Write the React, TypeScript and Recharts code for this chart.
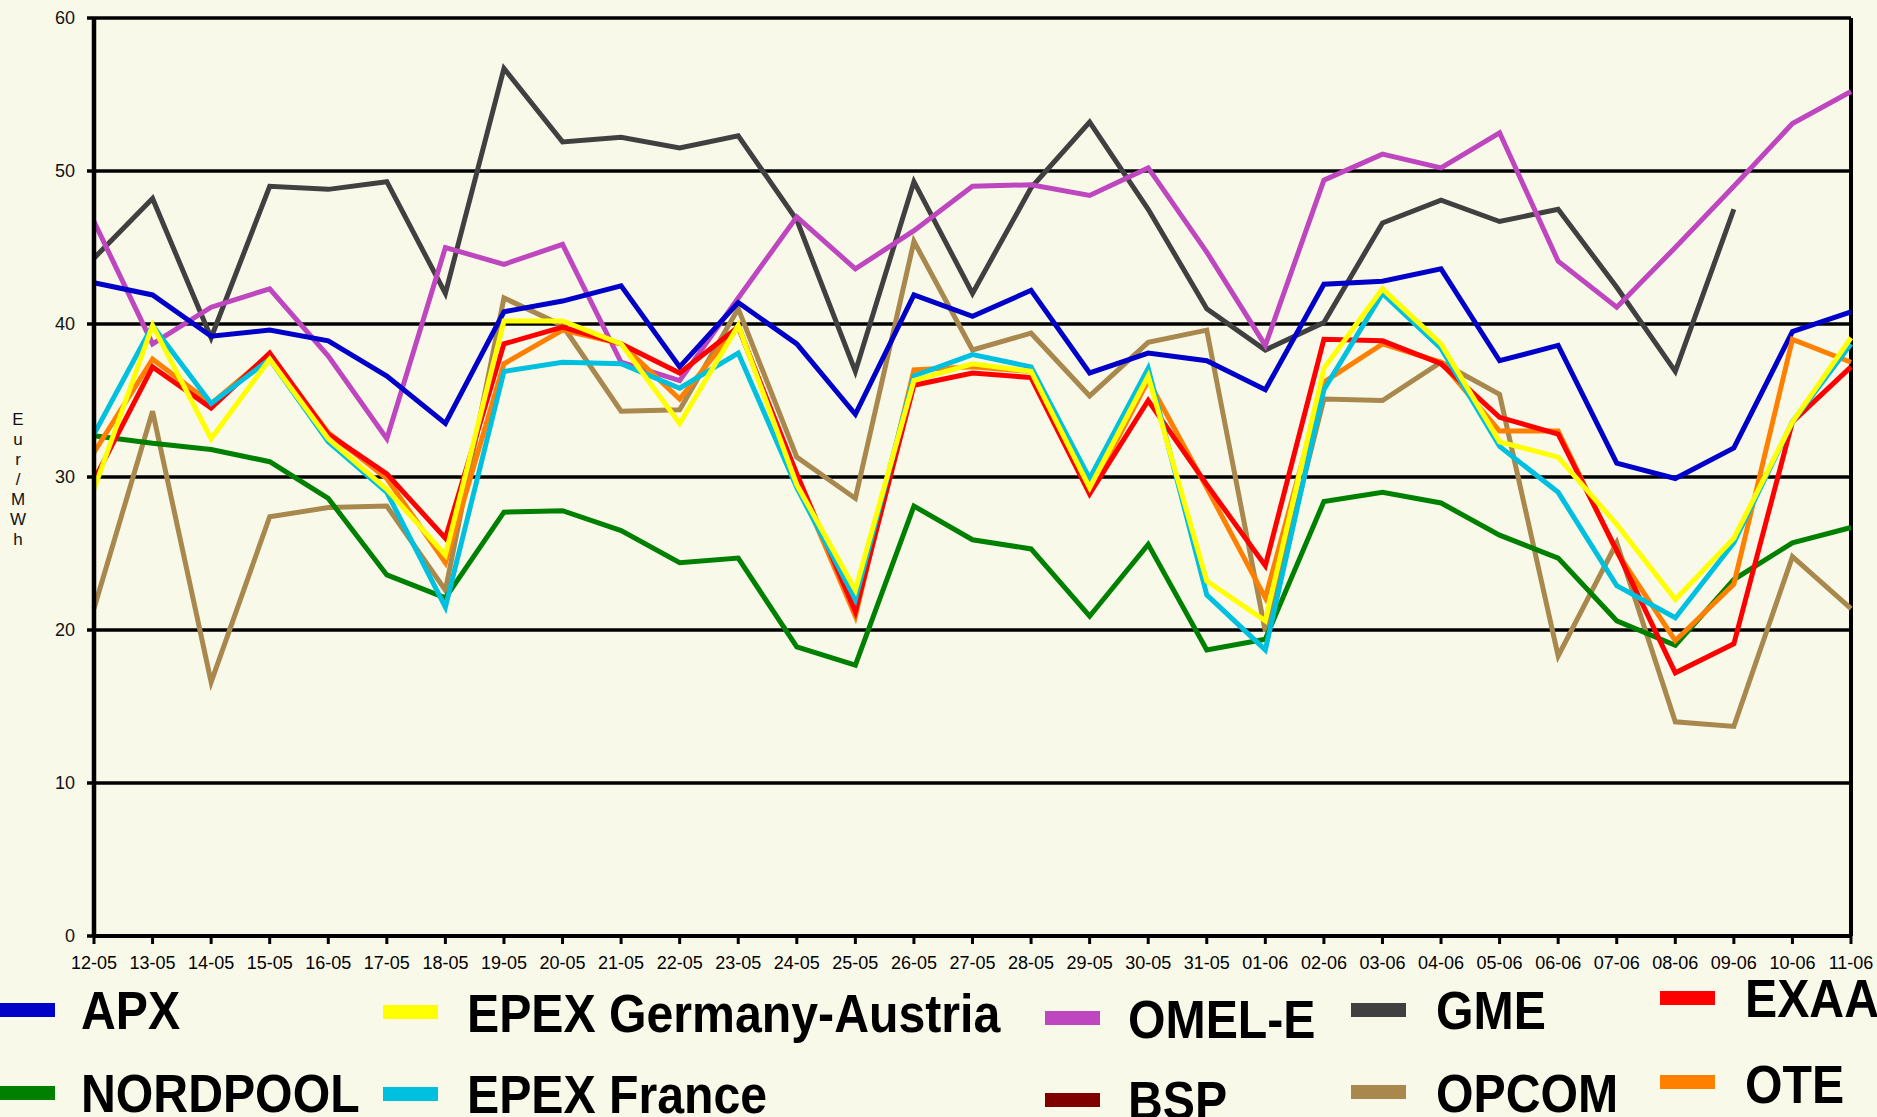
import { LineChart, Line, XAxis, YAxis, CartesianGrid, ReferenceLine } from "recharts";

// trading days on the x axis
const dates = [
  "12-05", "13-05", "14-05", "15-05", "16-05", "17-05", "18-05", "19-05", "20-05", "21-05",
  "22-05", "23-05", "24-05", "25-05", "26-05", "27-05", "28-05", "29-05", "30-05", "31-05",
  "01-06", "02-06", "03-06", "04-06", "05-06", "06-06", "07-06", "08-06", "09-06", "10-06", "11-06",
];

// Eur/MWh per exchange
const apx = [42.7, 41.9, 39.2, 39.6, 38.9, 36.6, 33.5, 40.8, 41.5, 42.5, 37.2, 41.4, 38.7, 34.1, 41.9, 40.5, 42.2, 36.8, 38.1, 37.6, 35.7, 42.6, 42.8, 43.6, 37.6, 38.6, 30.9, 29.9, 31.9, 39.5, 40.8];
const nordpool = [32.7, 32.2, 31.8, 31.0, 28.6, 23.6, 22.1, 27.7, 27.8, 26.5, 24.4, 24.7, 18.9, 17.7, 28.1, 25.9, 25.3, 20.9, 25.6, 18.7, 19.4, 28.4, 29.0, 28.3, 26.2, 24.7, 20.6, 19.0, 23.3, 25.7, 26.7];
const epexDeAt = [29.2, 39.9, 32.5, 37.7, 32.5, 29.2, 24.9, 40.2, 40.2, 38.7, 33.5, 39.9, 29.5, 22.6, 36.3, 37.4, 36.9, 29.3, 36.6, 23.2, 20.6, 37.1, 42.3, 38.7, 32.3, 31.3, 26.9, 22.0, 26.0, 33.6, 39.1];
const epexFr = [32.8, 39.9, 34.8, 37.7, 32.3, 29.0, 21.5, 36.9, 37.5, 37.4, 35.8, 38.1, 29.3, 22.0, 36.6, 38.0, 37.2, 29.9, 37.1, 22.3, 18.7, 35.7, 42.0, 38.4, 32.0, 29.0, 22.9, 20.8, 25.7, 33.6, 38.7];
const omel = [46.7, 38.7, 41.1, 42.3, 37.9, 32.5, 45.0, 43.9, 45.2, 37.5, 36.3, 41.7, 47.0, 43.6, 46.1, 49.0, 49.1, 48.4, 50.2, 44.7, 38.6, 49.4, 51.1, 50.2, 52.5, 44.1, 41.1, 45.0, 49.0, 53.1, 55.2];
const bsp: (number | null)[] = dates.map(() => null);
const gme = [44.3, 48.2, 39.1, 49.0, 48.8, 49.3, 42.0, 56.7, 51.9, 52.2, 51.5, 52.3, 46.8, 36.9, 49.3, 42.0, 48.9, 53.2, 47.5, 41.0, 38.3, 40.1, 46.6, 48.1, 46.7, 47.5, 42.4, 36.9, 47.5, null, null];
const opcom = [21.4, 34.3, 16.6, 27.4, 28.0, 28.1, 22.6, 41.7, 39.9, 34.3, 34.4, 41.0, 31.3, 28.6, 45.4, 38.3, 39.4, 35.3, 38.8, 39.6, 19.9, 35.1, 35.0, 37.5, 35.4, 18.3, 25.7, 14.0, 13.7, 24.8, 21.4];
const exaa = [29.8, 37.2, 34.5, 38.1, 32.8, 30.2, 26.0, 38.7, 39.8, 38.7, 36.8, 39.8, 30.2, 21.2, 36.0, 36.8, 36.5, 28.9, 35.0, 29.5, 24.2, 39.0, 38.9, 37.4, 33.9, 32.8, 25.2, 17.2, 19.1, 33.6, 37.2];
const ote = [31.6, 37.7, 34.8, 38.0, 32.9, 29.9, 24.4, 37.4, 39.6, 38.7, 35.1, 39.9, 29.8, 20.9, 37.0, 37.2, 36.9, 29.0, 36.3, 29.3, 22.1, 36.2, 38.7, 37.5, 33.0, 33.0, 25.1, 19.3, 23.0, 39.0, 37.5];

const yTicks = [0, 10, 20, 30, 40, 50, 60];
const yLabel = ["E", "u", "r", "/", "M", "W", "h"];

// drawing order, bottom first
const series = [
  { key: "OPCOM", values: opcom, color: "#A8884C" },
  { key: "GME", values: gme, color: "#404040" },
  { key: "OMEL-E", values: omel, color: "#BE46BE" },
  { key: "APX", values: apx, color: "#0000C8" },
  { key: "NORDPOOL", values: nordpool, color: "#008000" },
  { key: "BSP", values: bsp, color: "#800000" },
  { key: "OTE", values: ote, color: "#FF8000" },
  { key: "EXAA", values: exaa, color: "#FF0000" },
  { key: "EPEX France", values: epexFr, color: "#00C0E0" },
  { key: "EPEX Germany-Austria", values: epexDeAt, color: "#FFFF00" },
];

const data = dates.map((d, i) => {
  const row: Record<string, string | number | null> = { date: d };
  series.forEach((s) => (row[s.key] = s.values[i]));
  return row;
});

// legend layout: swatch x/y, text x, baseline
const legendItems = [
  { key: "APX", sx: 0, sy: 1003, tx: 81, ty: 1029 },
  { key: "EPEX Germany-Austria", sx: 383, sy: 1005, tx: 467, ty: 1032 },
  { key: "OMEL-E", sx: 1045, sy: 1011, tx: 1128, ty: 1038 },
  { key: "GME", sx: 1351, sy: 1003, tx: 1436, ty: 1029 },
  { key: "EXAA", sx: 1660, sy: 991, tx: 1745, ty: 1017 },
  { key: "NORDPOOL", sx: 0, sy: 1086, tx: 81, ty: 1112 },
  { key: "EPEX France", sx: 383, sy: 1087, tx: 467, ty: 1113 },
  { key: "BSP", sx: 1045, sy: 1093, tx: 1128, ty: 1119 },
  { key: "OPCOM", sx: 1351, sy: 1085, tx: 1436, ty: 1112 },
  { key: "OTE", sx: 1660, sy: 1075, tx: 1745, ty: 1103 },
];

const font = "'Liberation Sans', Arial, sans-serif";
const bg = "#F9F9EA";

export default function App() {
  const colorOf = (k: string) => series.find((s) => s.key === k)?.color ?? "#000";
  return (
    <div style={{ position: "absolute", top: 0, left: 0, width: 1877, height: 1117, background: bg, overflow: "hidden", fontFamily: font }}>
      <div style={{ position: "absolute", top: 0, left: 0, width: 1877, height: 969, overflow: "hidden" }}>
        <LineChart width={1877} height={990} data={data} margin={{ top: 18, right: 26, bottom: 0, left: 0 }}>
          <CartesianGrid vertical={false} stroke="#000" strokeWidth={3.5} />
          <XAxis
            dataKey="date"
            interval={0}
            height={54}
            tickSize={8}
            tickMargin={12}
            axisLine={{ stroke: "#000", strokeWidth: 4 }}
            tickLine={{ stroke: "#000", strokeWidth: 3 }}
            tick={{ fill: "#000", fontSize: 18, fontFamily: font }}
          />
          <YAxis
            domain={[0, 60]}
            ticks={yTicks}
            width={94}
            tickSize={7}
            tickMargin={12}
            axisLine={{ stroke: "#000", strokeWidth: 4.5 }}
            tickLine={{ stroke: "#000", strokeWidth: 3.5 }}
            tick={{ fill: "#111", fontSize: 18, fontFamily: font }}
          />
          <ReferenceLine x="11-06" stroke="#000" strokeWidth={4} />
          {series.map((s) => (
            <Line
              key={s.key}
              type="linear"
              dataKey={s.key}
              stroke={s.color}
              strokeWidth={5}
              dot={false}
              isAnimationActive={false}
            />
          ))}
        </LineChart>
      </div>
      <svg width={1877} height={1117} style={{ position: "absolute", top: 0, left: 0 }}>
        <text x={18} y={425} fontSize={17} fontFamily={font} fill="#111" textAnchor="middle">
          {yLabel.map((c, i) => (
            <tspan key={i} x={18} y={425 + i * 20}>
              {c}
            </tspan>
          ))}
        </text>
        {legendItems.map((it) => (
          <g key={it.key}>
            <rect x={it.sx} y={it.sy} width={55} height={14} fill={colorOf(it.key)} />
            <text
              transform={`translate(${it.tx},${it.ty}) scale(0.91,1)`}
              fontSize={53}
              fontWeight="bold"
              fontFamily={font}
              fill="#000"
            >
              {it.key}
            </text>
          </g>
        ))}
      </svg>
    </div>
  );
}
